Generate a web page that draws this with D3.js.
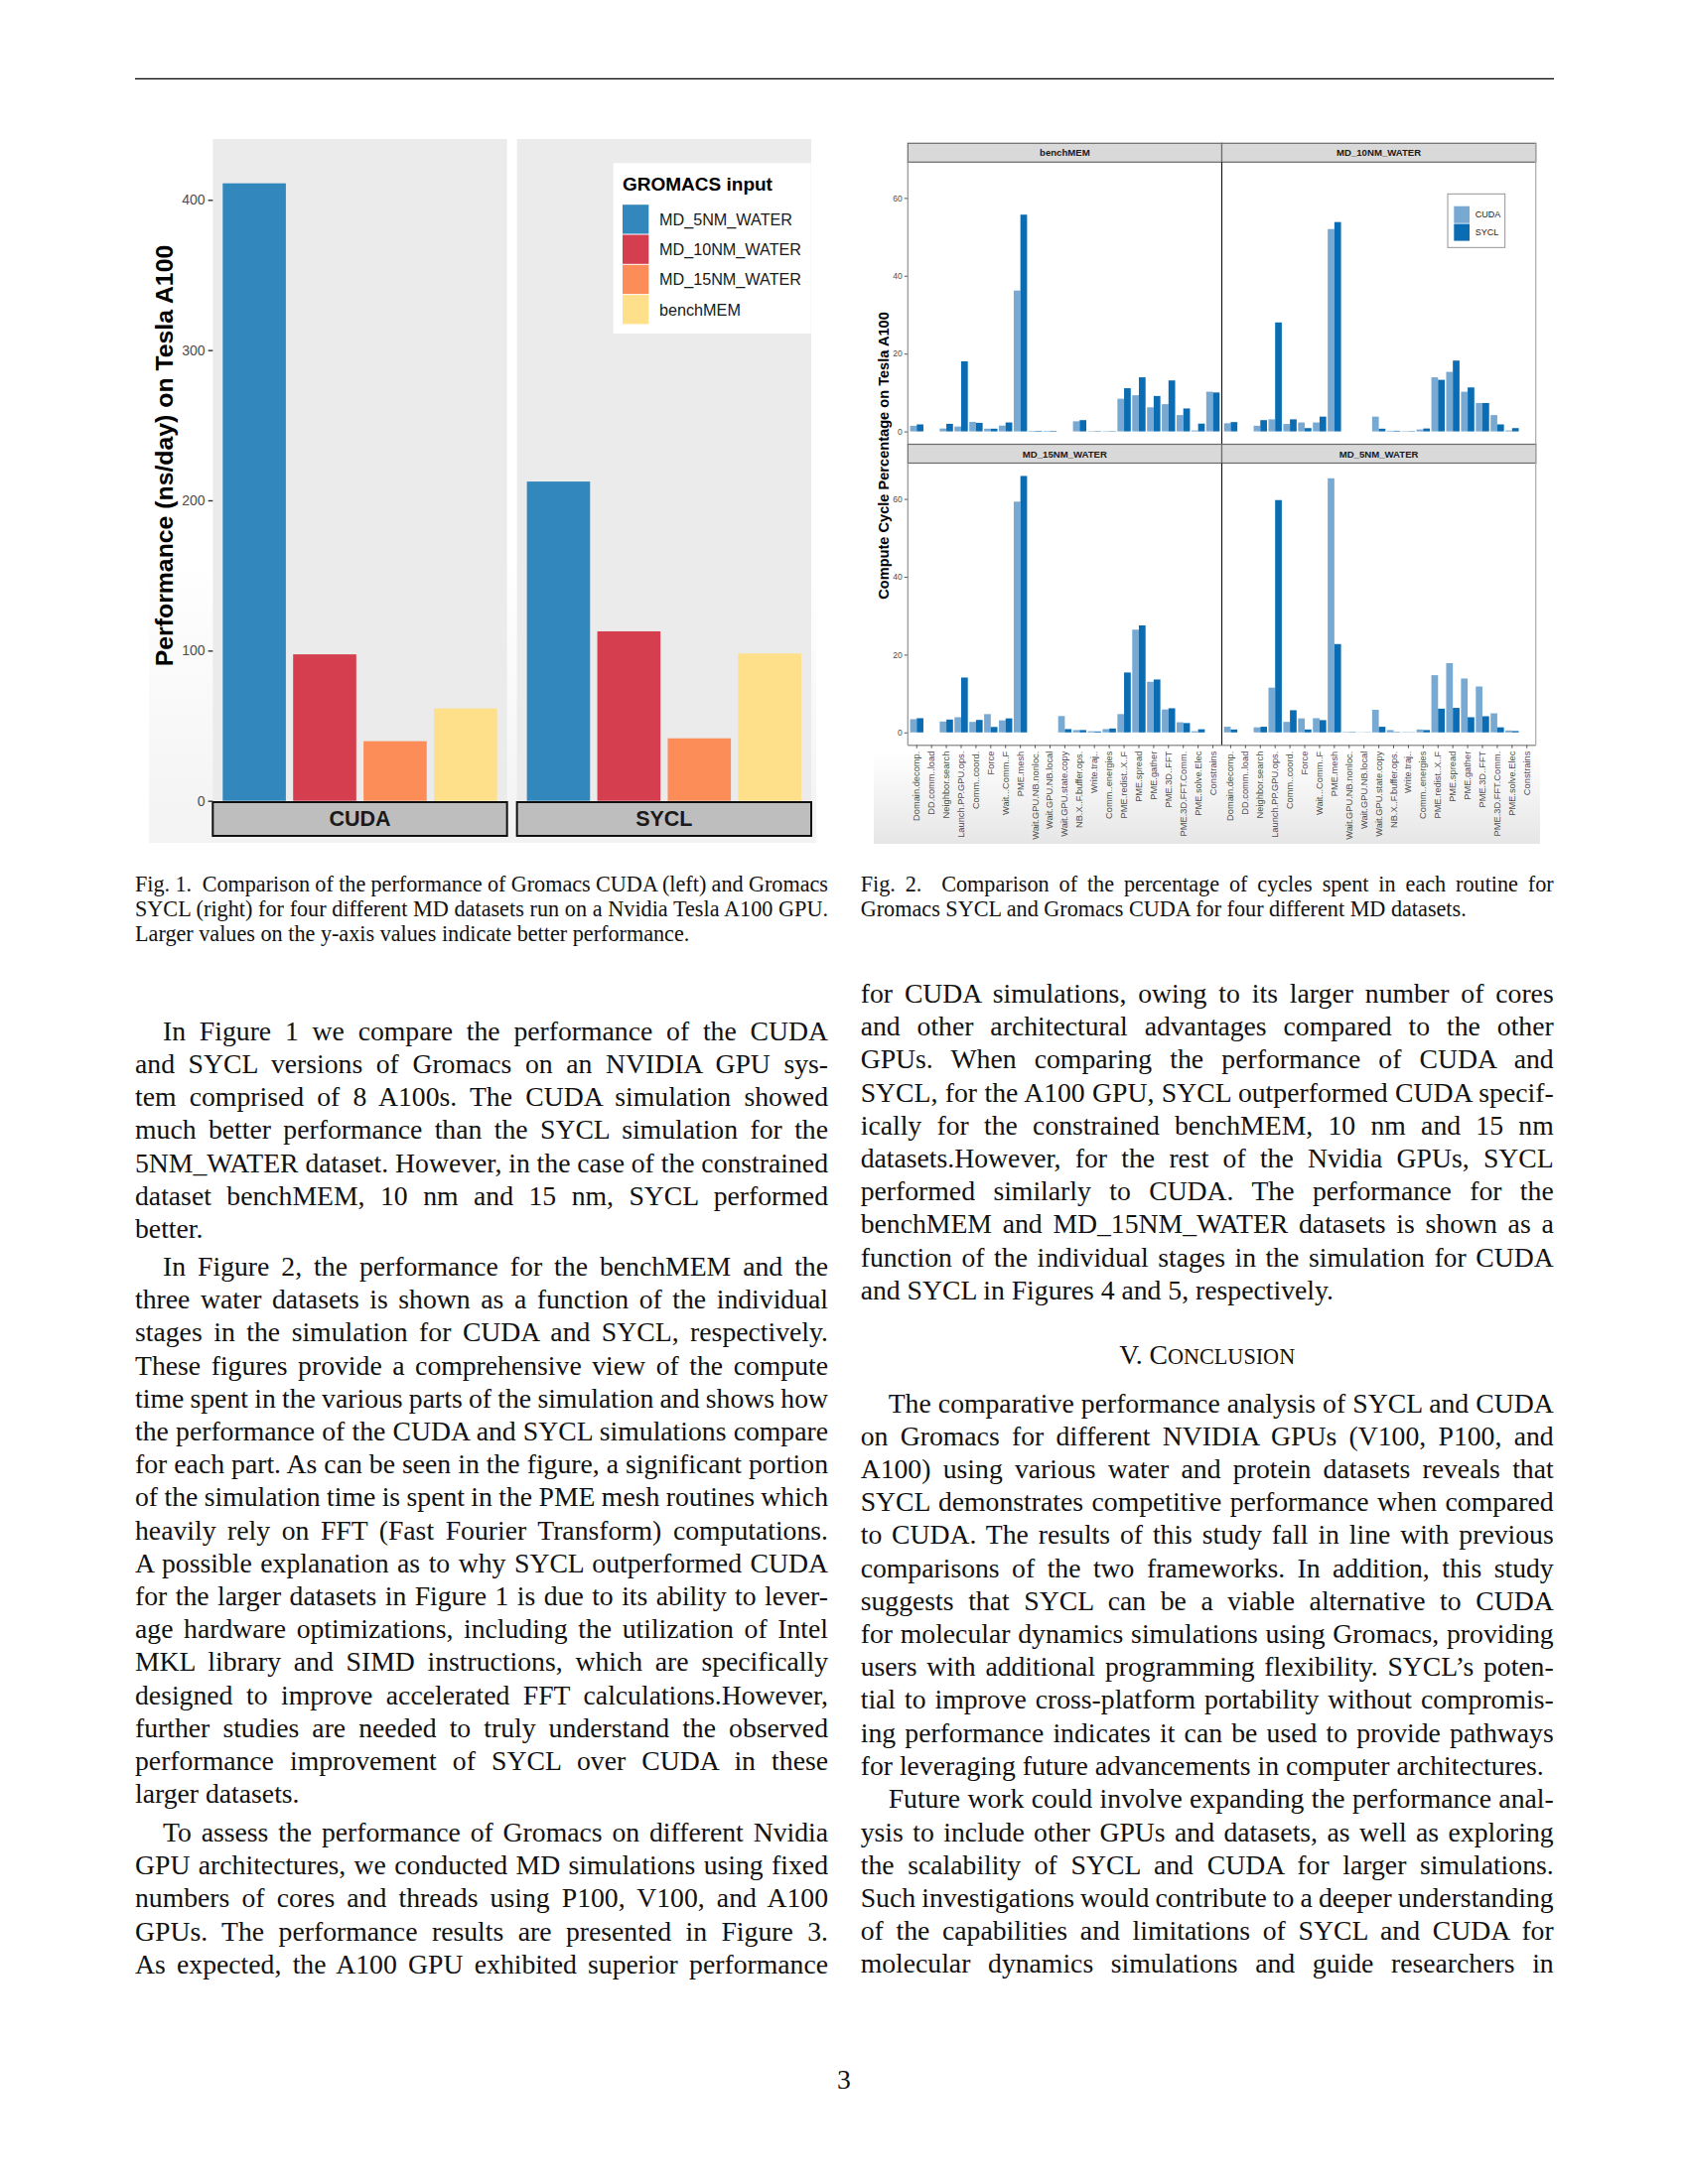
<!DOCTYPE html>
<html><head><meta charset="utf-8">
<script src="https://cdn.jsdelivr.net/npm/d3@7"></script>
<style>
html,body{margin:0;padding:0;background:#fff;}
svg{display:block;}
</style></head>
<body>
<svg id="page" width="1700" height="2200"></svg>
<script>
// ================= DATA =================
// Fig. 1 : performance (ns/day) on Tesla A100
const fig1Platforms = ["CUDA", "SYCL"];
const fig1Inputs = ["MD_5NM_WATER", "MD_10NM_WATER", "MD_15NM_WATER", "benchMEM"];
const fig1Colors = ["#3288BD", "#D53E4F", "#FC8D59", "#FEE08B"];
const fig1CUDA = [411, 97.5, 39.7, 61.5];
const fig1SYCL = [212.5, 112.8, 41.6, 98.1];
const fig1YTicks = [0, 100, 200, 300, 400];
const fig1LegendTitle = "GROMACS input";
const fig1YTitle = "Performance (ns/day) on Tesla A100";

// Fig. 2 : compute cycle percentage per routine
const fig2Routines = ["Domain.decomp.", "DD.comm..load", "Neighbor.search", "Launch.PP.GPU.ops.",
  "Comm..coord.", "Force", "Wait...Comm..F", "PME.mesh", "Wait.GPU.NB.nonloc.", "Wait.GPU.NB.local",
  "Wait.GPU.state.copy", "NB.X..F.buffer.ops.", "Write.traj..", "Comm..energies", "PME.redist..X..F",
  "PME.spread", "PME.gather", "PME.3D..FFT", "PME.3D.FFT.Comm.", "PME.solve.Elec", "Constrains"];
const fig2Versions = ["CUDA", "SYCL"];
const fig2VersionColors = ["#77a9d3", "#0a6db3"];
const fig2Panels = ["benchMEM", "MD_10NM_WATER", "MD_15NM_WATER", "MD_5NM_WATER"];
const benchMEM_CUDA = [1.45, 0, 0.75, 1.25, 2.45, 0.7, 1.5, 36.2, 0.15, 0.15, 0, 2.6, 0.1, 0.1, 8.4, 9.3, 6.2, 7.0, 4.2, 0.25, 10.2];
const benchMEM_SYCL = [1.8, 0, 1.95, 18.0, 2.2, 0.7, 2.3, 55.7, 0.15, 0.15, 0, 2.9, 0.1, 0.1, 11.1, 13.9, 9.1, 13.1, 5.9, 2.0, 10.0];
const md10_CUDA = [2.1, 0, 1.45, 3.1, 1.9, 2.3, 2.3, 52.0, 0, 0, 3.8, 0.17, 0.1, 0.5, 13.9, 15.3, 10.2, 7.3, 4.2, 0.25, 0];
const md10_SYCL = [2.4, 0, 2.9, 28.0, 3.1, 0.85, 3.8, 53.8, 0, 0, 0.7, 0.17, 0.1, 0.75, 13.25, 18.2, 11.3, 7.3, 1.8, 0.85, 0];
const md15_CUDA = [3.4, 0, 2.8, 3.9, 2.7, 4.7, 3.1, 59.3, 0, 0, 4.2, 0.6, 0.3, 0.85, 4.7, 26.4, 13.0, 5.9, 2.6, 0.3, 0];
const md15_SYCL = [3.65, 0, 3.3, 14.1, 3.2, 1.4, 3.6, 65.9, 0, 0, 0.85, 0.6, 0.25, 1.0, 15.4, 27.5, 13.6, 6.2, 2.4, 0.8, 0];
const md5_CUDA = [1.45, 0, 1.3, 11.5, 2.7, 3.6, 3.65, 65.3, 0.1, 0.05, 5.8, 0.6, 0.1, 0.75, 14.7, 17.8, 13.85, 11.8, 4.9, 0.5, 0];
const md5_SYCL = [0.75, 0, 1.45, 59.7, 5.7, 0.75, 3.15, 22.7, 0.1, 0.05, 1.45, 0.1, 0.05, 0.6, 6.1, 6.3, 3.9, 4.15, 1.3, 0.35, 0];
const fig2YTicks = [0, 20, 40, 60];
const fig2YTitle = "Compute Cycle Percentage on Tesla A100";

// Page text
const fig1Caption = ["Fig. 1.  Comparison of the performance of Gromacs CUDA (left) and Gromacs",
  "SYCL (right) for four different MD datasets run on a Nvidia Tesla A100 GPU.",
  "Larger values on the y-axis values indicate better performance."];
const fig2Caption = ["Fig. 2.  Comparison of the percentage of cycles spent in each routine for",
  "Gromacs SYCL and Gromacs CUDA for four different MD datasets."];
const leftPara1 = ["In Figure 1 we compare the performance of the CUDA",
  "and SYCL versions of Gromacs on an NVIDIA GPU sys-",
  "tem comprised of 8 A100s. The CUDA simulation showed",
  "much better performance than the SYCL simulation for the",
  "5NM_WATER dataset. However, in the case of the constrained",
  "dataset benchMEM, 10 nm and 15 nm, SYCL performed",
  "better."];
const leftPara2 = ["In Figure 2, the performance for the benchMEM and the",
  "three water datasets is shown as a function of the individual",
  "stages in the simulation for CUDA and SYCL, respectively.",
  "These figures provide a comprehensive view of the compute",
  "time spent in the various parts of the simulation and shows how",
  "the performance of the CUDA and SYCL simulations compare",
  "for each part. As can be seen in the figure, a significant portion",
  "of the simulation time is spent in the PME mesh routines which",
  "heavily rely on FFT (Fast Fourier Transform) computations.",
  "A possible explanation as to why SYCL outperformed CUDA",
  "for the larger datasets in Figure 1 is due to its ability to lever-",
  "age hardware optimizations, including the utilization of Intel",
  "MKL library and SIMD instructions, which are specifically",
  "designed to improve accelerated FFT calculations.However,",
  "further studies are needed to truly understand the observed",
  "performance improvement of SYCL over CUDA in these",
  "larger datasets."];
const leftPara3 = ["To assess the performance of Gromacs on different Nvidia",
  "GPU architectures, we conducted MD simulations using fixed",
  "numbers of cores and threads using P100, V100, and A100",
  "GPUs. The performance results are presented in Figure 3.",
  "As expected, the A100 GPU exhibited superior performance"];
const rightPara1 = ["for CUDA simulations, owing to its larger number of cores",
  "and other architectural advantages compared to the other",
  "GPUs. When comparing the performance of CUDA and",
  "SYCL, for the A100 GPU, SYCL outperformed CUDA specif-",
  "ically for the constrained benchMEM, 10 nm and 15 nm",
  "datasets.However, for the rest of the Nvidia GPUs, SYCL",
  "performed similarly to CUDA. The performance for the",
  "benchMEM and MD_15NM_WATER datasets is shown as a",
  "function of the individual stages in the simulation for CUDA",
  "and SYCL in Figures 4 and 5, respectively."];
const rightPara2 = ["The comparative performance analysis of SYCL and CUDA",
  "on Gromacs for different NVIDIA GPUs (V100, P100, and",
  "A100) using various water and protein datasets reveals that",
  "SYCL demonstrates competitive performance when compared",
  "to CUDA. The results of this study fall in line with previous",
  "comparisons of the two frameworks. In addition, this study",
  "suggests that SYCL can be a viable alternative to CUDA",
  "for molecular dynamics simulations using Gromacs, providing",
  "users with additional programming flexibility. SYCL\u2019s poten-",
  "tial to improve cross-platform portability without compromis-",
  "ing performance indicates it can be used to provide pathways",
  "for leveraging future advancements in computer architectures."];
const rightPara3 = ["Future work could involve expanding the performance anal-",
  "ysis to include other GPUs and datasets, as well as exploring",
  "the scalability of SYCL and CUDA for larger simulations.",
  "Such investigations would contribute to a deeper understanding",
  "of the capabilities and limitations of SYCL and CUDA for",
  "molecular dynamics simulations and guide researchers in"];

// ================= DRAWING =================
const SANS = '"Liberation Sans", Arial, "DejaVu Sans", sans-serif';
const SERIF = '"Liberation Serif", "Times New Roman", serif';
const svg = d3.select("#page");
const defs = svg.append("defs");

// top rule
svg.append("line").attr("x1", 136).attr("x2", 1565).attr("y1", 79.3).attr("y2", 79.3)
  .attr("stroke", "#000").attr("stroke-width", 1.3);

// ---------- Fig 1 ----------
const gr1 = defs.append("linearGradient").attr("id", "f1bg").attr("x1", 0).attr("y1", 0).attr("x2", 0).attr("y2", 1);
gr1.append("stop").attr("offset", "0%").attr("stop-color", "#ffffff");
gr1.append("stop").attr("offset", "100%").attr("stop-color", "#f3f3f3");
const f1 = svg.append("g");
f1.append("rect").attr("x", 150).attr("y", 560).attr("width", 672).attr("height", 289).attr("fill", "url(#f1bg)");

const f1Values = {CUDA: fig1CUDA, SYCL: fig1SYCL};
const f1Panel = d3.scaleBand().domain(fig1Platforms).range([214.3, 817]).paddingInner(0.0326).paddingOuter(0);
const f1x = d3.scaleBand().domain(fig1Inputs).range([0, f1Panel.bandwidth()]).paddingInner(0.103).paddingOuter(0.141);
const f1y = d3.scaleLinear().domain([0, 440.5]).range([806.7, 140]);
const f1Color = d3.scaleOrdinal().domain(fig1Inputs).range(fig1Colors);

fig1Platforms.forEach(p => {
  const g = f1.append("g").attr("transform", `translate(${f1Panel(p)},0)`);
  g.append("rect").attr("x", 0).attr("y", f1y.range()[1]).attr("width", f1Panel.bandwidth())
    .attr("height", f1y.range()[0] - f1y.range()[1]).attr("fill", "#EBEBEB");
  g.selectAll("rect.bar").data(fig1Inputs.map((k, i) => ({k, v: f1Values[p][i]}))).join("rect")
    .attr("class", "bar").attr("x", d => f1x(d.k)).attr("width", f1x.bandwidth())
    .attr("y", d => f1y(d.v)).attr("height", d => f1y(0) - f1y(d.v)).attr("fill", d => f1Color(d.k));
  g.append("rect").attr("x", 0).attr("y", 808).attr("width", f1Panel.bandwidth()).attr("height", 34)
    .attr("fill", "#BEBEBE").attr("stroke", "#111").attr("stroke-width", 2);
  g.append("text").attr("x", f1Panel.bandwidth() / 2).attr("y", 825).attr("text-anchor", "middle")
    .attr("dominant-baseline", "central").attr("font-family", SANS).attr("font-weight", "bold")
    .attr("font-size", 21.5).attr("fill", "#1a1a1a").text(p);
});
const f1Axis = f1.append("g").attr("transform", `translate(214.3,0)`)
  .call(d3.axisLeft(f1y).tickValues(fig1YTicks).tickSize(4.7).tickPadding(3));
f1Axis.select(".domain").remove();
f1Axis.selectAll(".tick line").attr("stroke", "#333").attr("stroke-width", 1.4);
f1Axis.selectAll(".tick text").attr("font-family", SANS).attr("font-size", 14).attr("fill", "#4D4D4D");
f1.append("text").attr("transform", "translate(165,459) rotate(-90)").attr("text-anchor", "middle")
  .attr("dominant-baseline", "central").attr("font-family", SANS).attr("font-weight", "bold")
  .attr("font-size", 24.8).attr("fill", "#000").text(fig1YTitle);

// legend
const lg1 = f1.append("g");
lg1.append("rect").attr("x", 617.7).attr("y", 164.3).attr("width", 199).attr("height", 171.7).attr("fill", "#fff");
lg1.append("text").attr("x", 627).attr("y", 191.5).attr("font-family", SANS).attr("font-weight", "bold")
  .attr("font-size", 19).attr("fill", "#000").text(fig1LegendTitle);
const lgY = d3.scaleBand().domain(fig1Inputs).range([205.7, 326.9]);
fig1Inputs.forEach(k => {
  lg1.append("rect").attr("x", 627).attr("y", lgY(k) + 0.5).attr("width", 26.3).attr("height", lgY.bandwidth() - 1)
    .attr("fill", f1Color(k));
  lg1.append("text").attr("x", 664).attr("y", lgY(k) + lgY.bandwidth() / 2).attr("dominant-baseline", "central")
    .attr("font-family", SANS).attr("font-size", 16.2).attr("fill", "#1a1a1a").text(k);
});

// ---------- Fig 2 ----------
const gr2 = defs.append("linearGradient").attr("id", "f2bg").attr("x1", 0).attr("y1", 0).attr("x2", 0).attr("y2", 1);
gr2.append("stop").attr("offset", "0%").attr("stop-color", "#ffffff");
gr2.append("stop").attr("offset", "100%").attr("stop-color", "#e6e6e6");
const f2 = svg.append("g");
f2.append("rect").attr("x", 880).attr("y", 757).attr("width", 671).attr("height", 93).attr("fill", "url(#f2bg)");

const f2Data = {
  "benchMEM": [benchMEM_CUDA, benchMEM_SYCL],
  "MD_10NM_WATER": [md10_CUDA, md10_SYCL],
  "MD_15NM_WATER": [md15_CUDA, md15_SYCL],
  "MD_5NM_WATER": [md5_CUDA, md5_SYCL]
};
const f2Col = d3.scaleBand().domain([0, 1]).range([914.3, 1546.7]);
const f2Row = d3.scaleBand().domain([0, 1]).range([144.3, 750.7]);
const stripH = 19;
const f2x = d3.scaleBand().domain(fig2Routines).range([0, f2Col.bandwidth()]).paddingInner(0).paddingOuter(0.1);
const f2xv = d3.scaleBand().domain(fig2Versions).range([0.05 * f2x.bandwidth(), 0.95 * f2x.bandwidth()]);
const f2Color = d3.scaleOrdinal().domain(fig2Versions).range(fig2VersionColors);

fig2Panels.forEach((name, i) => {
  const col = i % 2, row = Math.floor(i / 2);
  const x0 = f2Col(col), w = f2Col.bandwidth();
  const top = f2Row(row), bottom = top + f2Row.bandwidth();
  const y = d3.scaleLinear().domain([-3.3, 69.2]).range([bottom, top + stripH]);
  const g = f2.append("g").attr("transform", `translate(${x0},0)`);
  g.append("rect").attr("x", 0).attr("y", top + stripH).attr("width", w).attr("height", bottom - top - stripH).attr("fill", "#fff");
  const bars = [];
  fig2Routines.forEach((r, j) => fig2Versions.forEach((v, s) => bars.push({r, v, val: f2Data[name][s][j]})));
  g.selectAll("rect.bar").data(bars.filter(d => d.val > 0)).join("rect").attr("class", "bar")
    .attr("x", d => f2x(d.r) + f2xv(d.v)).attr("width", f2xv.bandwidth())
    .attr("y", d => y(d.val)).attr("height", d => y(0) - y(d.val)).attr("fill", d => f2Color(d.v));
  // strip
  g.append("rect").attr("x", 0).attr("y", top).attr("width", w).attr("height", stripH)
    .attr("fill", "#D9D9D9").attr("stroke", "#6a6a6a").attr("stroke-width", 1.2);
  g.append("text").attr("x", w / 2).attr("y", top + stripH / 2).attr("text-anchor", "middle")
    .attr("dominant-baseline", "central").attr("font-family", SANS).attr("font-weight", "bold")
    .attr("font-size", 9.6).attr("fill", "#1a1a1a").text(name);
  // borders
  if (col === 0) {
    const ax = g.append("g").call(d3.axisLeft(y).tickValues(fig2YTicks).tickSize(3.5).tickPadding(2));
    ax.select(".domain").remove();
    ax.selectAll(".tick line").attr("stroke", "#444").attr("stroke-width", 0.9);
    ax.selectAll(".tick text").attr("font-family", SANS).attr("font-size", 8.5).attr("fill", "#4D4D4D");
    g.append("line").attr("x1", 0).attr("x2", 0).attr("y1", top + stripH).attr("y2", bottom)
      .attr("stroke", "#999").attr("stroke-width", 1.3);
  } else {
    g.append("line").attr("x1", 0).attr("x2", 0).attr("y1", top + stripH).attr("y2", bottom)
      .attr("stroke", "#111").attr("stroke-width", 1.1);
    g.append("line").attr("x1", w).attr("x2", w).attr("y1", top).attr("y2", bottom)
      .attr("stroke", "#aaa").attr("stroke-width", 1.2);
  }
  if (row === 1) {
    const xa = g.append("g").attr("transform", `translate(0,${bottom})`)
      .call(d3.axisBottom(f2x).tickSize(3).tickPadding(3));
    xa.select(".domain").attr("stroke", "#999").attr("stroke-width", 1.6).attr("d", `M0,0H${w}`);
    xa.selectAll(".tick line").attr("stroke", "#444").attr("stroke-width", 0.9);
    xa.selectAll(".tick text").attr("font-family", SANS).attr("font-size", 9.3).attr("fill", "#4D4D4D")
      .attr("text-anchor", "end").attr("dominant-baseline", "central")
      .attr("transform", "rotate(-90)").attr("x", -6).attr("y", 0).attr("dy", null);
  }
});
f2.append("text").attr("transform", "translate(889.5,459) rotate(-90)").attr("text-anchor", "middle")
  .attr("dominant-baseline", "central").attr("font-family", SANS).attr("font-weight", "bold")
  .attr("font-size", 14.6).attr("fill", "#000").text(fig2YTitle);

// legend fig 2
const lg2 = f2.append("g");
lg2.append("rect").attr("x", 1458).attr("y", 195.3).attr("width", 57.7).attr("height", 54)
  .attr("fill", "#fff").attr("stroke", "#8a8a8a").attr("stroke-width", 0.9);
const lg2Y = d3.scaleBand().domain(fig2Versions).range([207.3, 243]);
fig2Versions.forEach(v => {
  lg2.append("rect").attr("x", 1464.3).attr("y", lg2Y(v) + 0.4).attr("width", 15.7).attr("height", lg2Y.bandwidth() - 0.8)
    .attr("fill", f2Color(v));
  lg2.append("text").attr("x", 1485.7).attr("y", lg2Y(v) + lg2Y.bandwidth() / 2).attr("dominant-baseline", "central")
    .attr("font-family", SANS).attr("font-size", 9).attr("fill", "#1a1a1a").text(v);
});

// ---------- Text ----------
const txt = svg.append("g").attr("fill", "#111").attr("font-family", SERIF);
function line(x, y, w, s, size, justify) {
  const t = txt.append("text").attr("x", x).attr("y", y).attr("font-size", size)
    .style("white-space", "pre").text(s);
  if (justify) {
    const len = t.node().getComputedTextLength();
    const n = (s.match(/ /g) || []).length;
    if (n > 0) t.style("word-spacing", ((w - len) / n) + "px");
  }
  return t;
}
function para(lines, x, y0, w, lh, size, indent, lastJustify) {
  lines.forEach((s, i) => {
    const ind = (i === 0) ? indent : 0;
    const isLast = i === lines.length - 1;
    line(x + ind, y0 + i * lh, w - ind, s, size, !isLast || lastJustify);
  });
}
const LX = 136, RX = 866.7, CW = 698, BODY = 27.7, LH = 33.2, IND = 28;
para(fig1Caption, LX, 898, CW, 25, 22.2, 0, false);
para(fig2Caption, RX, 898, CW, 25, 22.2, 0, false);
para(leftPara1, LX, 1047.8, CW, LH, BODY, IND, false);
para(leftPara2, LX, 1285, CW, LH, BODY, IND, false);
para(leftPara3, LX, 1855, CW, LH, BODY, IND, true);
para(rightPara1, RX, 1010, CW, LH, BODY, 0, false);
para(rightPara2, RX, 1422.6, CW, LH, BODY, IND, false);
para(rightPara3, RX, 1821.4, CW, LH, BODY, IND, true);
const head = txt.append("text").attr("x", RX + CW / 2).attr("y", 1374).attr("text-anchor", "middle");
head.append("tspan").attr("font-size", BODY).text("V. C");
head.append("tspan").attr("font-size", 22.2).text("ONCLUSION");
txt.append("text").attr("x", 850).attr("y", 2104).attr("text-anchor", "middle").attr("font-size", BODY).text("3");
</script>
</body></html>
